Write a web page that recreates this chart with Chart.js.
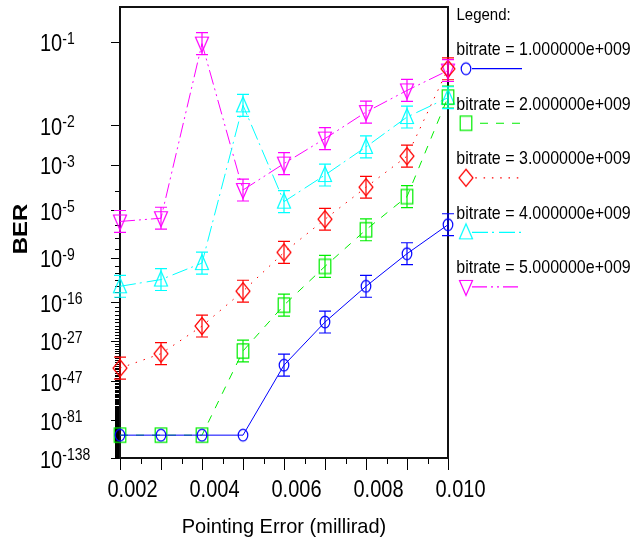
<!DOCTYPE html>
<html>
<head>
<meta charset="utf-8">
<title>BER vs Pointing Error</title>
<script src="https://cdn.jsdelivr.net/npm/chart.js@4.4.1/dist/chart.umd.min.js"></script>
<style>
  html, body { margin: 0; padding: 0; background: #fff; }
  #wrap { width: 633px; height: 542px; position: relative; }
</style>
</head>
<body>
<div id="wrap"><canvas id="chart" width="633" height="542"></canvas></div>
<script>
// ---- data -------------------------------------------------------------
// Pointing error sweep (millirad)
const pointingError = [0.002, 0.003, 0.004, 0.005, 0.006, 0.007, 0.008, 0.009, 0.010];

// Bit error rate for each bit rate (1e-100 is the simulator's floor)
const ber1G = [1e-100, 1e-100, 1e-100, 1e-100, 2.1e-38, 1.2e-21, 1.0e-13, 2.9e-9, 1.1e-6];
const ber2G = [1e-100, 1e-100, 1e-100, 9.6e-32, 2.1e-17, 9.2e-11, 4.6e-7, 5.4e-5, 2.85e-2];
const ber3G = [5.4e-40, 6.8e-33, 8.3e-23, 1.35e-14, 4.0e-9, 2.65e-6, 1.46e-4, 1.86e-3, 6.0e-2];
const ber4G = [1.0e-13, 1.25e-12, 2.4e-10, 2.18e-2, 2.98e-5, 4.5e-4, 3.3e-3, 1.41e-2, 2.8e-2];
const ber5G = [1.87e-6, 3.1e-6, 9.7e-2, 1.1e-4, 1.11e-3, 5.25e-3, 1.71e-2, 3.48e-2, 5.77e-2];

const seriesLabels = [
  'bitrate = 1.000000e+009',
  'bitrate = 2.000000e+009',
  'bitrate = 3.000000e+009',
  'bitrate = 4.000000e+009',
  'bitrate = 5.000000e+009'
];

// Labelled BER decades on the vertical axis (10^-n)
const yTickExponents = [1, 2, 3, 5, 9, 16, 27, 47, 81, 138];
// Horizontal axis labels
const xTickValues = [0.002, 0.004, 0.006, 0.008, 0.010];
const xTickLabels = ['0.002', '0.004', '0.006', '0.008', '0.010'];

const BER_FLOOR = 1e-100;
const ERR_LOGQ = 0.034;   // error bar half-width, in log10(Q)

// ---- styles -----------------------------------------------------------
const seriesStyles = [
  { color: '#0000ff', dash: [],                      marker: 'circle',  legendOffset: 0 },
  { color: '#00ee00', dash: [8, 8],                  marker: 'square',  legendOffset: 8 },
  { color: '#ff0000', dash: [1.5, 6.8],              marker: 'diamond', legendOffset: 5 },
  { color: '#00ffff', dash: [16, 4, 2, 5],           marker: 'triUp',   legendOffset: 0 },
  { color: '#ff00ff', dash: [15, 4, 2, 4, 2, 4],     marker: 'triDown', legendOffset: 0 }
];
const FONT = '"Liberation Sans", Arial, sans-serif';

// ---- BER <-> Q-factor scale ------------------------------------------
// ln of the Gaussian tail probability Q(q), computed in log form so that
// very small error rates do not underflow.
function lnQ(q) {
  const z = q / Math.SQRT2;
  const t = 1 / (1 + 0.5 * z);
  const p = -z * z - 1.26551223 + t * (1.00002368 + t * (0.37409196 + t * (0.09678418 +
            t * (-0.18628806 + t * (0.27886807 + t * (-1.13520398 + t * (1.48851587 +
            t * (-0.82215223 + t * 0.17087277))))))));
  return Math.log(0.5) + Math.log(t) + p;
}
function qFactor(ber) {
  const target = Math.log(ber);
  let lo = 0, hi = 60;
  for (let k = 0; k < 200; k++) {
    const mid = (lo + hi) / 2;
    if (lnQ(mid) > target) lo = mid; else hi = mid;
  }
  return (lo + hi) / 2;
}
// vertical axis coordinate: log10 of the Q-factor
const berAxis = ber => Math.log10(qFactor(ber));

// ---- markers ----------------------------------------------------------
function makeMarker(kind, color) {
  const c = document.createElement('canvas');
  c.width = 18; c.height = 22;
  const g = c.getContext('2d');
  const cx = 9, cy = 11;
  g.strokeStyle = color;
  g.lineWidth = 1.2;
  g.beginPath();
  if (kind === 'circle') {
    g.ellipse(cx, cy, 4.8, 5.9, 0, 0, Math.PI * 2);
  } else if (kind === 'square') {
    g.rect(cx - 5.8, cy - 7.2, 11.6, 14.4);
  } else if (kind === 'diamond') {
    g.moveTo(cx, cy - 8.5); g.lineTo(cx + 7, cy); g.lineTo(cx, cy + 8.5); g.lineTo(cx - 7, cy); g.closePath();
  } else if (kind === 'triUp') {
    g.moveTo(cx, cy - 8.5); g.lineTo(cx + 6.5, cy + 6.5); g.lineTo(cx - 6.5, cy + 6.5); g.closePath();
  } else {
    g.moveTo(cx, cy + 8.5); g.lineTo(cx + 6.5, cy - 6.5); g.lineTo(cx - 6.5, cy - 6.5); g.closePath();
  }
  g.stroke();
  return c;
}

function text(ctx, str, x, y, size, o = {}) {
  ctx.save();
  ctx.translate(x, y);
  if (o.rotate) ctx.rotate(o.rotate);
  ctx.scale(o.sx || 1, o.sy || 1);
  ctx.font = (o.weight || 'normal') + ' ' + size + 'px ' + FONT;
  ctx.textAlign = o.align || 'left';
  ctx.textBaseline = 'alphabetic';
  ctx.fillStyle = '#000';
  ctx.fillText(str, 0, 0);
  ctx.restore();
}

const allSeries = [ber1G, ber2G, ber3G, ber4G, ber5G];
const markers = seriesStyles.map(s => makeMarker(s.marker, s.color));

const datasets = allSeries.map((ber, i) => ({
  label: seriesLabels[i],
  data: pointingError.map((x, j) => ({ x: x, y: berAxis(ber[j]) })),
  borderColor: seriesStyles[i].color,
  backgroundColor: seriesStyles[i].color,
  borderWidth: 1,
  borderDash: seriesStyles[i].dash,
  pointStyle: markers[i],
  pointRadius: 6,
  fill: false,
  tension: 0,
  clip: false
}));

// ---- axes, ticks, error bars, legend -----------------------------------
const decorations = {
  id: 'decorations',
  beforeDatasetsDraw(chart) {
    const ctx = chart.ctx, a = chart.chartArea;
    const xs = chart.scales.x, ys = chart.scales.y;
    ctx.save();
    ctx.strokeStyle = '#000';
    // decade ticks on the BER axis, snapped to whole pixels
    ctx.lineWidth = 1;
    for (let n = 1; n <= 138; n++) {
      const y = Math.round(ys.getPixelForValue(berAxis(Math.pow(10, -n)))) + 0.5;
      const major = yTickExponents.includes(n);
      ctx.beginPath();
      ctx.moveTo(major ? a.left - 9 : a.left - 5, y);
      ctx.lineTo(a.left, y);
      ctx.stroke();
    }
    // pointing error ticks every 0.0005
    ctx.lineWidth = 1;
    for (let k = 0; k <= 16; k++) {
      const x = Math.round(xs.getPixelForValue(0.002 + k * 0.0005)) + 0.5;
      ctx.beginPath();
      ctx.moveTo(x, a.bottom);
      ctx.lineTo(x, a.bottom + (k % 2 === 0 ? 12 : 6));
      ctx.stroke();
    }
    // frame
    ctx.lineWidth = 2;
    ctx.strokeStyle = '#111';
    ctx.strokeRect(a.left, a.top, a.right - a.left, a.bottom - a.top);
    ctx.restore();
  },
  afterDatasetsDraw(chart) {
    const ctx = chart.ctx, xs = chart.scales.x, ys = chart.scales.y;
    ctx.save();
    ctx.lineWidth = 1.2;
    allSeries.forEach((ber, i) => {
      ctx.strokeStyle = seriesStyles[i].color;
      ber.forEach((b, j) => {
        if (b <= BER_FLOOR) return;
        const v = berAxis(b);
        const x = xs.getPixelForValue(pointingError[j]);
        const y1 = ys.getPixelForValue(v - ERR_LOGQ);
        const y2 = ys.getPixelForValue(v + ERR_LOGQ);
        ctx.beginPath();
        ctx.moveTo(x, y1); ctx.lineTo(x, y2);
        ctx.moveTo(x - 6, y1); ctx.lineTo(x + 6, y1);
        ctx.moveTo(x - 6, y2); ctx.lineTo(x + 6, y2);
        ctx.stroke();
      });
    });
    ctx.restore();
  },
  afterDraw(chart) {
    const ctx = chart.ctx, a = chart.chartArea;
    const xs = chart.scales.x, ys = chart.scales.y;
    // BER tick labels: 10 with a raised exponent
    ctx.save();
    ctx.font = '20px ' + FONT;
    const base = ctx.measureText('10').width;
    ctx.restore();
    yTickExponents.forEach(n => {
      const y = ys.getPixelForValue(berAxis(Math.pow(10, -n)));
      text(ctx, '10', 40, y + 9.5, 20, { sy: 1.24 });
      text(ctx, '-' + n, 40 + base, y + 1.8, 14, { sy: 1.2 });
    });
    // pointing error labels
    xTickValues.forEach((v, k) => {
      const x = xs.getPixelForValue(v);
      text(ctx, xTickLabels[k], x + 12.5, 497, 20, { align: 'center', sy: 1.17 });
    });
    // axis titles
    text(ctx, 'Pointing Error (millirad)', (a.left + a.right) / 2, 533, 20, { align: 'center', sy: 1.02 });
    text(ctx, 'BER', 26.5, 229, 21, { align: 'center', weight: 'bold', rotate: -Math.PI / 2, sx: 1.14 });

    // legend
    text(ctx, 'Legend:', 456.5, 20, 15, { sy: 1.12 });
    seriesLabels.forEach((lab, i) => {
      const ty = 55 + 54.55 * i;
      const ly = 68.7 + 54.55 * i;
      text(ctx, lab, 456.3, ty, 16, { sy: 1.14 });
      const s = seriesStyles[i];
      ctx.save();
      ctx.strokeStyle = s.color;
      ctx.lineWidth = 1.2;
      ctx.setLineDash(s.dash);
      ctx.lineDashOffset = s.legendOffset;
      ctx.beginPath();
      ctx.moveTo(472, ly);
      ctx.lineTo(522, ly);
      ctx.stroke();
      ctx.restore();
      const m = markers[i];
      ctx.drawImage(m, 466 - m.width / 2, ly - m.height / 2);
    });
  }
};

new Chart(document.getElementById('chart'), {
  type: 'line',
  data: { datasets },
  options: {
    responsive: false,
    animation: false,
    devicePixelRatio: 1,
    layout: { padding: { left: 120, right: 185, top: 4, bottom: 84 } },
    plugins: { legend: { display: false }, tooltip: { enabled: false }, title: { display: false } },
    events: [],
    scales: {
      x: { type: 'linear', min: 0.002, max: 0.010, display: false },
      y: { type: 'linear', reverse: true, min: 0, max: berAxis(1e-138), display: false }
    }
  },
  plugins: [decorations]
});
</script>
</body>
</html>
